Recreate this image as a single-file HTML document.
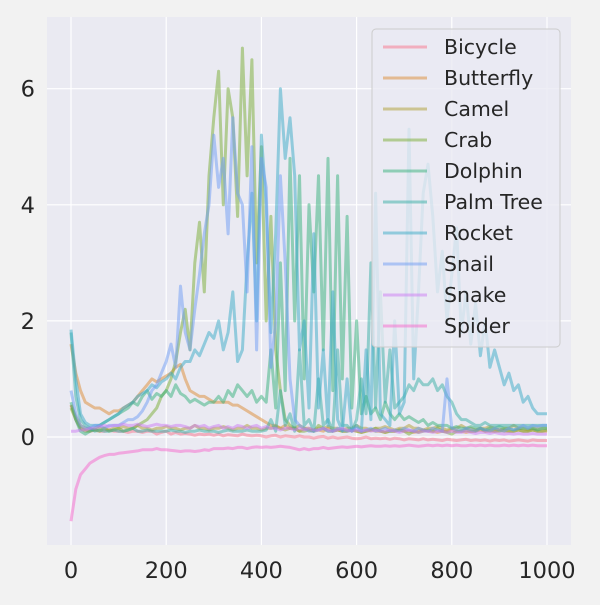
<!DOCTYPE html>
<html><head><meta charset="utf-8"><style>
body{margin:0;background:#f2f2f2;}
svg text{font-family:"DejaVu Sans","Liberation Sans",sans-serif;fill:#262626;}
</style></head><body>
<svg id="chart" width="600" height="600">
<rect width="600" height="600" fill="#f2f2f2"/>
<rect x="47" y="17" width="524" height="528" fill="#eaeaf2"/>
<g id="grid"></g><g id="series"></g><g id="ticks"></g><g id="legend"></g>
</svg>
<script>
const xTicks=[0,200,400,600,800,1000];
const yTicks=[0,2,4,6];
const names=["Bicycle","Butterfly","Camel","Crab","Dolphin","Palm Tree","Rocket","Snail","Snake","Spider"];
const colors=["#f77189","#dc8932","#ae9d31","#77ab31","#33b07a","#36ada4","#38a9c5","#6e9bf4","#cc7af4","#f565cc"];
const bicycle=[0.55,0.3,0.15,0.12,0.1,0.12,0.1,0.1,0.12,0.1,0.1,0.1,0.08,0.1,0.1,0.08,0.1,0.1,0.05,0.08,0.1,0.05,0.08,0.05,0.06,0.05,0.03,0.05,0.04,0.05,0.03,0.05,0.02,0.04,0.03,0.02,0.05,0.03,0.02,0.03,0.02,0.0,0.02,0.03,0.0,0.02,0.01,0.0,0.02,0.0,0.0,-0.02,0.0,0.01,-0.02,0.0,-0.02,-0.01,0.0,-0.02,-0.03,-0.02,0.0,-0.03,-0.02,-0.03,-0.02,-0.04,-0.02,-0.03,-0.05,-0.03,-0.04,-0.05,-0.03,-0.05,-0.04,-0.05,-0.06,-0.04,-0.05,-0.06,-0.05,-0.04,-0.06,-0.05,-0.06,-0.05,-0.07,-0.05,-0.06,-0.05,-0.07,-0.06,-0.05,-0.06,-0.07,-0.05,-0.06,-0.06,-0.06];
const butterfly=[1.6,1.1,0.8,0.6,0.55,0.5,0.5,0.45,0.4,0.45,0.45,0.5,0.55,0.6,0.7,0.8,0.9,1.0,0.95,1.0,1.05,1.1,1.2,1.25,1.0,0.8,0.75,0.7,0.7,0.65,0.6,0.6,0.6,0.6,0.55,0.55,0.5,0.45,0.4,0.35,0.3,0.25,0.2,0.2,0.15,0.2,0.15,0.15,0.1,0.15,0.12,0.1,0.12,0.1,0.15,0.1,0.12,0.1,0.1,0.12,0.1,0.08,0.1,0.12,0.1,0.1,0.08,0.1,0.1,0.12,0.1,0.1,0.08,0.1,0.12,0.1,0.1,0.08,0.1,0.1,0.12,0.1,0.1,0.08,0.1,0.1,0.12,0.1,0.1,0.1,0.12,0.1,0.1,0.1,0.12,0.1,0.1,0.12,0.1,0.1,0.1];
const camel=[0.55,0.35,0.2,0.15,0.15,0.12,0.15,0.15,0.12,0.15,0.15,0.18,0.15,0.15,0.2,0.15,0.15,0.12,0.15,0.15,0.18,0.15,0.15,0.12,0.15,0.15,0.2,0.15,0.15,0.12,0.15,0.15,0.18,0.15,0.12,0.15,0.15,0.2,0.15,0.15,0.12,0.15,0.15,0.18,0.15,0.12,0.15,0.15,0.2,0.15,0.15,0.12,0.15,0.15,0.18,0.15,0.15,0.12,0.15,0.15,0.2,0.15,0.15,0.12,0.15,0.15,0.18,0.15,0.12,0.15,0.15,0.2,0.15,0.15,0.12,0.15,0.15,0.18,0.15,0.12,0.15,0.15,0.2,0.15,0.15,0.12,0.15,0.15,0.18,0.15,0.12,0.15,0.15,0.2,0.15,0.15,0.12,0.15,0.15,0.15,0.15];
const crab=[0.5,0.3,0.15,0.1,0.1,0.12,0.1,0.15,0.1,0.12,0.15,0.1,0.12,0.15,0.2,0.25,0.3,0.4,0.5,0.7,0.8,1.0,1.3,1.8,2.2,1.5,3.0,3.7,2.5,4.5,5.5,6.3,4.0,6.0,5.5,3.8,6.7,4.5,6.5,3.0,5.0,2.0,3.8,1.5,0.8,0.3,0.2,0.15,0.1,0.1,0.12,0.1,0.2,0.15,0.1,0.1,0.12,0.1,0.1,0.12,0.1,0.08,0.1,0.12,0.15,0.1,0.08,0.1,0.1,0.12,0.1,0.05,0.1,0.08,0.1,0.12,0.1,0.15,0.1,0.08,0.05,0.1,0.1,0.12,0.1,0.1,0.15,0.1,0.12,0.1,0.1,0.12,0.1,0.1,0.12,0.1,0.1,0.12,0.1,0.1,0.12];
const dolphin=[0.6,0.3,0.1,0.05,0.1,0.15,0.2,0.25,0.3,0.35,0.4,0.45,0.5,0.6,0.55,0.7,0.8,0.65,0.75,0.7,0.8,0.7,0.9,0.75,0.7,0.6,0.65,0.6,0.55,0.6,0.6,0.7,0.6,0.8,0.7,0.9,0.8,0.7,0.8,0.6,0.7,0.6,1.5,0.5,3.0,0.8,4.8,2.0,4.5,1.0,4.0,2.5,4.5,1.5,4.8,0.8,4.5,1.0,3.8,0.5,2.0,0.4,0.7,0.4,0.5,0.3,0.6,0.4,0.3,0.4,0.3,0.35,0.3,0.25,0.3,0.2,0.25,0.2,0.2,0.2,0.15,0.18,0.15,0.15,0.18,0.15,0.15,0.12,0.15,0.15,0.18,0.15,0.15,0.12,0.15,0.15,0.15,0.15,0.12,0.15,0.15];
const palmTree=[1.8,0.7,0.3,0.2,0.15,0.1,0.12,0.1,0.1,0.12,0.1,0.1,0.12,0.15,0.1,0.1,0.12,0.1,0.1,0.1,0.1,0.12,0.1,0.1,0.08,0.1,0.1,0.12,0.1,0.1,0.1,0.08,0.1,0.12,0.1,0.1,0.1,0.12,0.1,0.1,0.1,0.12,0.3,0.1,0.8,0.2,0.4,0.1,1.5,0.2,0.3,0.1,1.0,0.2,0.3,0.1,1.5,0.2,0.2,0.1,0.3,1.0,0.4,3.0,0.5,2.5,0.6,1.5,0.5,0.6,0.7,0.9,0.8,1.0,0.9,0.9,1.0,0.8,0.9,0.7,0.6,0.4,0.3,0.3,0.25,0.2,0.2,0.25,0.2,0.2,0.2,0.2,0.2,0.2,0.2,0.2,0.2,0.2,0.2,0.2,0.2];
const rocket=[1.85,1.0,0.4,0.25,0.2,0.2,0.2,0.25,0.3,0.35,0.4,0.5,0.55,0.6,0.7,0.75,0.8,0.9,0.85,0.95,1.0,1.1,1.0,1.2,1.3,1.3,1.5,1.4,1.6,1.8,1.7,2.0,1.5,1.8,2.5,1.3,1.5,3.0,4.2,2.0,5.2,4.0,1.8,3.5,6.0,4.8,5.5,4.5,1.5,2.0,0.5,3.5,0.5,1.5,0.2,2.5,0.3,0.1,1.0,0.1,0.2,0.1,1.5,0.3,4.2,0.4,0.3,0.2,2.0,0.4,0.6,5.3,1.0,2.5,4.2,4.7,3.8,2.5,3.2,2.0,2.8,3.6,1.8,2.5,1.6,2.3,1.4,2.0,1.2,1.5,1.2,0.9,1.1,0.8,0.9,0.6,0.7,0.5,0.4,0.4,0.4];
const snail=[0.8,0.4,0.2,0.15,0.15,0.2,0.2,0.15,0.2,0.2,0.2,0.25,0.3,0.3,0.35,0.45,0.6,0.8,0.9,1.1,1.3,1.6,1.2,2.6,1.8,1.5,2.2,2.8,3.5,4.0,5.2,4.3,4.8,3.5,5.5,4.2,4.0,2.5,5.0,1.5,4.8,4.3,1.2,2.0,4.5,3.0,1.0,0.3,0.2,0.15,0.1,0.1,0.12,0.15,0.1,0.1,0.15,0.12,0.1,0.12,0.15,0.1,0.12,0.15,0.1,0.12,0.15,0.1,0.12,0.1,0.15,0.12,0.1,0.15,0.12,0.1,0.15,0.12,0.1,1.0,0.15,0.12,0.1,0.15,0.12,0.1,0.15,0.12,0.1,0.15,0.12,0.1,0.15,0.12,0.15,0.2,0.15,0.2,0.18,0.2,0.2];
const snake=[0.1,0.1,0.12,0.12,0.15,0.15,0.18,0.2,0.18,0.2,0.2,0.22,0.2,0.2,0.22,0.2,0.18,0.2,0.22,0.2,0.2,0.18,0.2,0.2,0.18,0.15,0.2,0.18,0.2,0.15,0.18,0.2,0.15,0.18,0.15,0.2,0.18,0.15,0.18,0.2,0.15,0.18,0.15,0.15,0.12,0.15,0.15,0.12,0.15,0.12,0.15,0.12,0.12,0.15,0.12,0.1,0.12,0.15,0.12,0.1,0.12,0.1,0.12,0.1,0.12,0.1,0.1,0.12,0.1,0.08,0.1,0.12,0.1,0.08,0.1,0.1,0.08,0.1,0.1,0.08,0.1,0.08,0.08,0.1,0.08,0.06,0.08,0.08,0.06,0.08,0.06,0.05,0.06,0.05,0.06,0.05,0.05,0.06,0.05,0.05,0.05];
const spider=[-1.45,-0.9,-0.65,-0.55,-0.45,-0.4,-0.35,-0.32,-0.3,-0.3,-0.28,-0.27,-0.26,-0.25,-0.24,-0.22,-0.22,-0.22,-0.2,-0.22,-0.22,-0.23,-0.24,-0.25,-0.24,-0.24,-0.25,-0.24,-0.22,-0.23,-0.2,-0.2,-0.2,-0.19,-0.2,-0.18,-0.18,-0.2,-0.18,-0.17,-0.18,-0.17,-0.18,-0.17,-0.16,-0.17,-0.18,-0.2,-0.22,-0.2,-0.22,-0.2,-0.2,-0.18,-0.2,-0.19,-0.18,-0.17,-0.18,-0.17,-0.16,-0.17,-0.16,-0.15,-0.16,-0.16,-0.15,-0.16,-0.15,-0.16,-0.15,-0.14,-0.15,-0.16,-0.15,-0.14,-0.15,-0.14,-0.15,-0.14,-0.15,-0.14,-0.15,-0.15,-0.14,-0.15,-0.14,-0.15,-0.14,-0.15,-0.15,-0.14,-0.15,-0.14,-0.15,-0.14,-0.15,-0.14,-0.15,-0.15,-0.15];
const allSeries=[bicycle,butterfly,camel,crab,dolphin,palmTree,rocket,snail,snake,spider];
const stepX=10;

const NS="http://www.w3.org/2000/svg";
const xs=v=>71+v*0.476;
const ys=v=>437-v*58.05;
function mk(tag,attrs,parent){const e=document.createElementNS(NS,tag);for(const k in attrs)e.setAttribute(k,attrs[k]);parent.appendChild(e);return e;}
const grid=document.getElementById('grid'),ticks=document.getElementById('ticks'),ser=document.getElementById('series'),leg=document.getElementById('legend');
xTicks.forEach(t=>{
  const l=mk('line',{x1:xs(t),x2:xs(t),y1:17,y2:545,stroke:'#fff','stroke-width':1.2},grid);
  
  
  const tx=mk('text',{x:xs(t),y:578,'text-anchor':'middle','font-size':22.5},ticks);
  tx.textContent=t;
  
  
});
yTicks.forEach(t=>{
  const l=mk('line',{x1:47,x2:571,y1:ys(t),y2:ys(t),stroke:'#fff','stroke-width':1.2},grid);
  
  
  const tx=mk('text',{x:35,y:ys(t)+8,'text-anchor':'end','font-size':22.5},ticks);
  tx.textContent=t;
  
  
});
allSeries.forEach((s,i)=>{
  const d=s.map((v,j)=>(j?'L':'M')+xs(j*stepX).toFixed(1)+','+ys(v).toFixed(1)).join('');
  const p=mk('path',{d:d,fill:'none',stroke:colors[i],'stroke-width':3,'stroke-opacity':0.5,'stroke-linejoin':'round'},ser);
  
  
});
const box=mk('rect',{x:372,y:29,width:188,height:318,rx:4,fill:'#eaeaf2','fill-opacity':0.8,stroke:'#cccccc','stroke-width':1},leg);


names.forEach((n,i)=>{
  const y=47+i*31;
  const l=mk('line',{x1:383,x2:427,y1:y,y2:y,stroke:colors[i],'stroke-width':3,'stroke-opacity':0.5},leg);
  
  
  const t=mk('text',{x:444,y:y+7,'font-size':20.5},leg);
  t.textContent=n;
  
  
});
</script>
</body></html>
